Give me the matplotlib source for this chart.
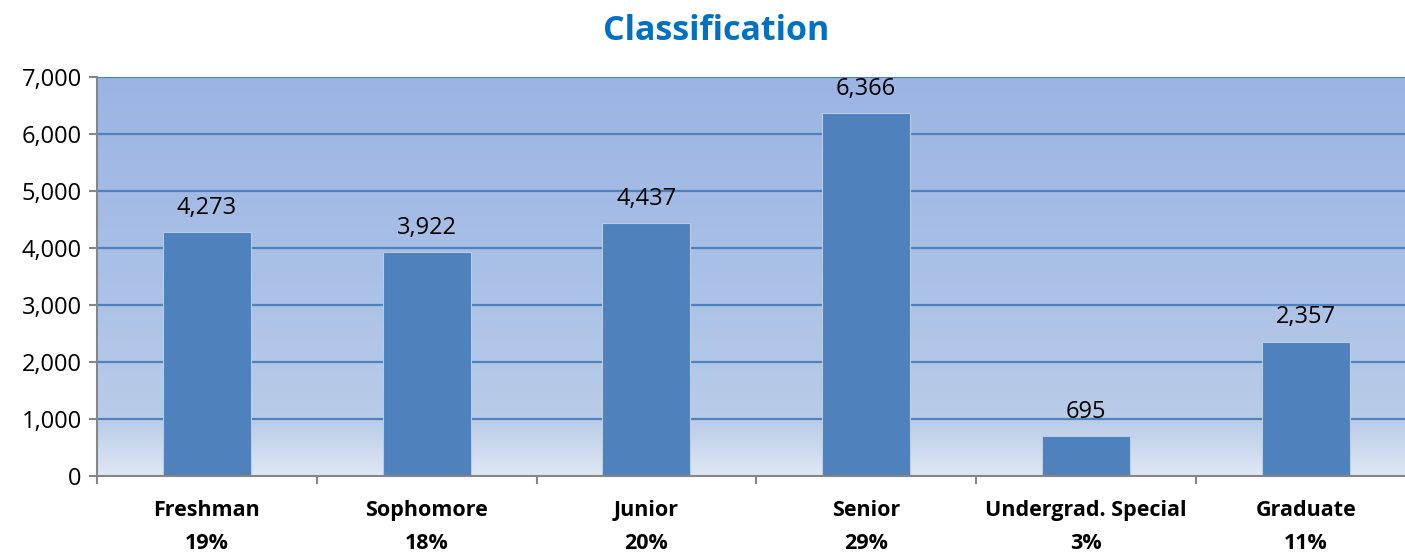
import matplotlib.pyplot as plt
import numpy as np
from matplotlib.colors import LinearSegmentedColormap

categories = ["Freshman", "Sophomore", "Junior", "Senior", "Undergrad. Special", "Graduate"]
counts = [4273, 3922, 4437, 6366, 695, 2357]
shares = ["19%", "18%", "20%", "29%", "3%", "11%"]
yticks = [0, 1000, 2000, 3000, 4000, 5000, 6000, 7000]

plt.rcParams['font.family'] = ['Open Sans', 'DejaVu Sans']

fig = plt.figure(figsize=(14.05, 5.55), dpi=100)
ax = fig.add_axes([97 / 1405, 1 - 476 / 555, (1415.6 - 97) / 1405, (476 - 77) / 555])

x = np.arange(len(categories))

# background gradient, dark at top, pale at the bottom
bg = LinearSegmentedColormap.from_list(
    "bg", [(0.0, "#dfe7f4"), (0.14, "#b9cce8"), (0.55, "#a8bfe6"), (1.0, "#9bb4e2")])
grad = np.linspace(0, 1, 256).reshape(-1, 1)
ax.imshow(grad, cmap=bg, origin="lower", aspect="auto",
          extent=[-0.5, len(categories) - 0.5, 0, 7000], zorder=0)

for t in yticks[1:]:
    ax.axhline(t, color="#4f81bd", lw=1.6, zorder=1)

ax.bar(x, counts, width=0.4, color="#4f81bd", edgecolor="#b8cce4", linewidth=0.8, zorder=2)

for xi, v in zip(x, counts):
    ax.annotate(f"{v:,}", (xi, v), xytext=(0, 9), textcoords="offset points",
                ha="center", va="bottom", fontsize=17, color="black")

ax.set_xlim(-0.5, len(categories) - 0.5)
ax.set_ylim(0, 7000)
ax.set_yticks(yticks)
ax.set_yticklabels([f"{t:,}" for t in yticks], fontsize=17)
ax.set_xticks(np.arange(-0.5, len(categories), 1.0))
ax.set_xticklabels([])
ax.tick_params(axis="both", direction="out", length=6, width=1.5, color="#868686")
ax.tick_params(axis="y", pad=5)

for xi, c, s in zip(x, categories, shares):
    ax.text(xi, -0.06, c + "\n" + s, transform=ax.get_xaxis_transform(),
            ha="center", va="top", fontsize=15.5, fontweight="bold", linespacing=1.75)

for side in ["top", "right"]:
    ax.spines[side].set_visible(False)
for side in ["left", "bottom"]:
    ax.spines[side].set_color("#868686")
    ax.spines[side].set_linewidth(1.5)
    ax.spines[side].set_zorder(3)

fig.text(0.51, 0.944, "Classification", ha="center", va="center",
         fontsize=24.5, fontweight="bold", color="#0070c0")

fig.savefig("out.png", dpi=100)
